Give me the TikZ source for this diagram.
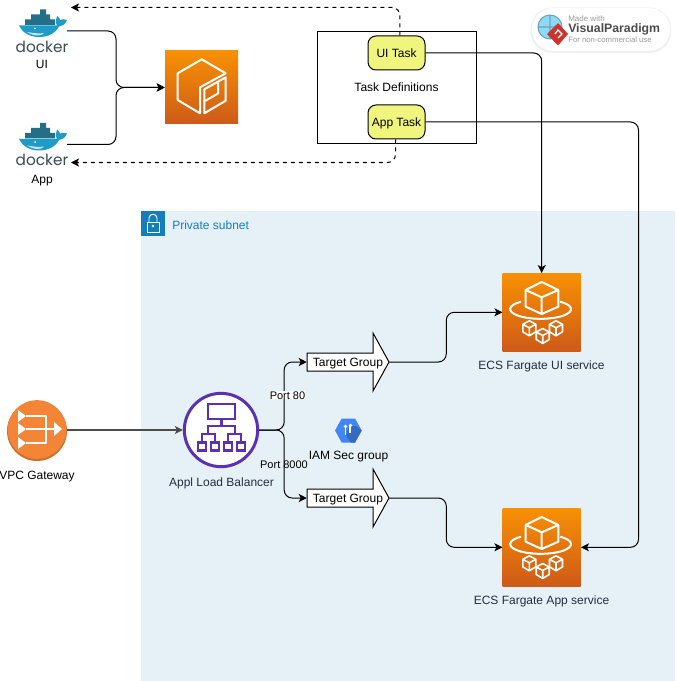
\documentclass[tikz,border=0pt]{standalone}
\usepackage{fontspec}
\usepackage{xcolor}
\usepackage{tikz}
\usetikzlibrary{arrows.meta,positioning,shapes.geometric,calc}
\setmainfont{Liberation Sans}
\newfontfamily\dockerfont{Poppins}
\definecolor{subnetbg}{RGB}{230,240,247}
\definecolor{subnetblue}{RGB}{20,126,186}
\definecolor{awstop}{RGB}{248,144,4}
\definecolor{awsbot}{RGB}{206,90,24}
\definecolor{taskyel}{RGB}{240,245,125}
\definecolor{albpurple}{RGB}{90,48,181}
\definecolor{gworange}{RGB}{245,133,54}
\definecolor{gwdark}{RGB}{205,110,45}
\definecolor{awsink}{RGB}{35,47,62}
\definecolor{whaleblue}{RGB}{30,155,200}
\definecolor{crateblue}{RGB}{36,110,135}
\definecolor{dockerink}{RGB}{57,77,84}
\definecolor{iamblue}{RGB}{66,133,244}
\definecolor{vpred}{RGB}{205,50,45}
\tikzset{
  txt/.style={font=\fontsize{9}{11}\selectfont,inner sep=0pt,text height=6.5pt,text depth=0pt},
  conn/.style={draw=black,line width=0.75pt,rounded corners=6pt,-{Stealth[length=6pt,width=6pt,inset=1.5pt]}},
  dashconn/.style={conn,dashed},
  awsbox/.style={rectangle,minimum size=58.5pt,inner sep=0pt,top color=awstop,bottom color=awsbot},
  tasknode/.style={txt,draw=black,line width=0.75pt,fill=taskyel,rounded corners=6pt,minimum width=42.75pt,minimum height=25.5pt},
  tglabel/.style={txt,minimum width=61.5pt,minimum height=13.5pt},
  dockerlbl/.style={font=\dockerfont\fontsize{11.5}{13}\selectfont,text=dockerink,inner sep=0pt},
  iconline/.style={draw=white,line width=1.5pt,line join=round},
  ecsicon/.pic={
    \draw[iconline] (0,-30.3) -- (16.6,-22.3) -- (16.6,-5.6) -- (0,1.7) -- (-16,-5.6) -- (-16,-22.3) -- cycle;
    \draw[iconline] (-16,-22.3) -- (0,-15) -- (16.6,-22.3) (0,-15) -- (0,1.7);
    \draw[iconline] (-20.7,-10.6) arc[start angle=230,end angle=-50,x radius=30.5,y radius=9.7];
    \foreach \cx/\cy in {-12.4/16,14.3/16,1/23.7}{
      \draw[iconline,line width=1.2pt,shift={(\cx,\cy)}] (0,-7.5) -- (6.5,-4) -- (6.5,3.5) -- (0,7.5) -- (-6.5,3.5) -- (-6.5,-4) -- cycle (-6.5,-4) -- (0,-0.5) -- (6.5,-4) (0,-0.5) -- (0,7.5);
    }
  },
  whale/.pic={
    \fill[crateblue] (-17,-2.5) rectangle (13,3) (-11,-7.5) rectangle (8,-2) (-2,-12.5) rectangle (4,-7);
    \fill[whaleblue] (-23,3.5) -- (15,3.5) .. controls (13,0) and (14,-3) .. (15,-6) .. controls (17,-5) and (18,-3) .. (18,-2) .. controls (20,-3) and (23,-3) .. (25,-2) .. controls (23,3) and (20,4) .. (17,4.5) .. controls (13,12) and (5,15) .. (-3,15) .. controls (-13,15) and (-20,10) .. (-23,3.5) -- cycle;
    \fill[white!75!whaleblue] (-15,10) .. controls (-8,11) and (-3,12) .. (2,11) .. controls (0,14.5) and (-8,14.5) .. (-15,10) -- cycle;
    \fill[white] (-7,6.5) circle (1);
  }
}
\begin{document}
\begin{tikzpicture}[x=0.75pt,y=-0.75pt]
  \useasboundingbox (0,0) rectangle (676,681);
  \fill[white] (0,0) rectangle (676,681);
  % subnet
  \fill[subnetbg] (141,211) rectangle (675,681);
  \fill[subnetblue] (141,211) rectangle (165,236);
  \draw[white,line width=0.7pt] (147,222) rectangle (159,232);
  \draw[white,line width=0.7pt] (149,222) -- (149,218) .. controls (149,213) and (157,213) .. (157,218) -- (157,222);
  \fill[white] (153,226) circle (1.3);
  \node[txt,text=subnetblue,anchor=west] (subnetlbl) at (172,225) {Private subnet};

  % docker
  \pic at (42,22) {whale};
  \pic at (42,135.5) {whale};
  \node[dockerlbl] (dockerui) at (42,46.5) {docker};
  \node[dockerlbl] (dockerapp) at (42,159.5) {docker};
  \node[txt] (uilbl) at (42,64.5) {UI};
  \node[txt] (applbl) at (42,179) {App};
  \coordinate (uiout) at (67,31);
  \coordinate (appout) at (67,144.5);
  \coordinate (uiback) at (71,7.5);
  \coordinate (appback) at (71,162.5);

  % registry
  \node[awsbox,minimum size=54.75pt] (registry) at (201.5,87.5) {};
  \draw[iconline] (201.7,59.3) -- (225.7,73.3) -- (200,87.3) -- (200,113.3) -- (177.7,100) -- (177.7,73.3) -- cycle;
  \draw[iconline] (204.3,89.3) -- (225.7,77.3) -- (225.7,100.7) -- (204.3,113.3) -- cycle;
  \draw[iconline] (218,81.5) -- (218,93.5) -- (205,101);

  % task definitions
  \draw[line width=0.75pt] (317.5,32) rectangle (476.5,143.5);
  \node[tasknode] (uitask) at (396.5,53) {UI Task};
  \node[tasknode] (apptask) at (396.5,122) {App Task};
  \node[txt] (tasklbl) at (396.5,87) {Task Definitions};

  % gateway and balancer
  \fill[gwdark] (37,431) circle (30);
  \node[circle,fill=gworange,minimum size=44pt,inner sep=0pt] (vpcgw) at (37,429.5) {};
  \coordinate (gwout) at (67,430);
  \draw[iconline] (26,416) -- (46,416) -- (46,443) -- (26,443) (26,429) -- (56,429);
  \fill[white] (18,410) -- (26,416) -- (18,422) -- cycle (18,423) -- (26,429) -- (18,435) -- cycle (18,437) -- (26,443) -- (18,449) -- cycle (54,422) -- (62,429) -- (54,436) -- cycle;
  \node[txt] (vpclbl) at (37,475) {VPC Gateway};
  \node[circle,draw=albpurple,fill=white,line width=2.25pt,minimum size=55pt,inner sep=0pt] (alb) at (221,430) {};
  \draw[albpurple,line width=1.6pt] (208,404) rectangle (235,419) (221.5,419) -- (221.5,426) (208,434) -- (208,426) -- (235,426) -- (235,434) (202,442) -- (202,434) -- (215,434) -- (215,442) (228,442) -- (228,434) -- (241,434) -- (241,442);
  \foreach \bx in {202,215,228,241}{
    \draw[albpurple,line width=1.6pt] (\bx-4,442.5) rectangle (\bx+4,450.5);
  }
  \node[txt,text=awsink] (alblbl) at (221.5,482) {Appl Load Balancer};

  % iam
  \fill[iamblue] (335,430.5) -- (341.7,418.5) -- (355,418.5) -- (361.7,430.5) -- (355,442.5) -- (341.7,442.5) -- cycle;
  \fill[iamblue!80!black] (349,426) -- (356,426) -- (361.7,430.5) -- (355,442.5) -- (351,442.5) -- (346,436) -- cycle;
  \draw[white,line width=1pt] (345.5,426) -- (345.5,435) (350,426) -- (350,433);
  \fill[white] (345.5,426.5) circle (1.8) (350.5,425.5) circle (1.8);
  \node[txt] (iamlbl) at (348.5,455) {IAM Sec group};

  % target groups
  \foreach \ty in {362,498}{
    \draw[fill=white,line width=0.75pt] (307,\ty-9) -- (373,\ty-9) -- (373,\ty-29) -- (389,\ty) -- (373,\ty+29) -- (373,\ty+9) -- (307,\ty+9) -- cycle;
  }
  \node[tglabel] (tgui) at (348,362) {Target Group};
  \node[tglabel] (tgapp) at (348,498) {Target Group};

  % ecs services
  \node[awsbox] (ecsui) at (541.7,312.3) {};
  \pic at (541.7,312.3) {ecsicon};
  \node[txt,text=awsink] (ecsuilbl) at (541.5,365) {ECS Fargate UI service};
  \node[awsbox] (ecsapp) at (541.7,547.3) {};
  \pic at (541.7,547.3) {ecsicon};
  \node[txt,text=awsink] (ecsapplbl) at (541.5,600) {ECS Fargate App service};

  % connectors
  \draw[conn] (uiout) -- ++(49,0) |- (registry.west);
  \draw[conn] (appout) -- ++(49,0) |- (registry.west);
  \draw[dashconn] ([xshift=2.6pt]uitask.north) |- (uiback);
  \draw[dashconn] ([xshift=-0.75pt]apptask.south) |- (appback);
  \draw[conn] (uitask.east) -| (ecsui.north);
  \draw[conn] (apptask.east) -- ++(213,0) |- (ecsapp.east);
  \draw[conn,rounded corners=0pt,draw=black!70,line width=1pt] (gwout) -- (alb.west);
  \draw[conn] (alb.east) -- ++(25,0) |- (tgui.west);
  \draw[conn] (alb.east) -- ++(25,0) |- (tgapp.west);
  \draw[conn] (tgui.east) -- ++(57,0) |- (ecsui.west);
  \draw[conn] (tgapp.east) -- ++(57,0) |- (ecsapp.west);
  \node[txt,fill=white,font=\fontsize{8.25}{10}\selectfont,text height=6pt] (port80) at (287.5,395) {Port 80};
  \node[txt,font=\fontsize{8.25}{10}\selectfont,text height=6pt] (port8000) at (284,464.5) {Port 8000};

  % badge
  \fill[black!6,rounded corners=16pt] (530.5,7.5) rectangle (671,53);
  \fill[white,rounded corners=16pt] (532,8) rectangle (670,51);
  \fill[cyan!45] (550,27) circle (12);
  \draw[cyan!40!gray,line width=0.8pt] (550,27) circle (12) (538,27) -- (562,27) (550,15) -- (550,39);
  \fill[vpred] (558,23) -- (568,34) -- (558,45.5) -- (547,34) -- cycle;
  \draw[white,line width=1pt] (555,34) -- (558,30) -- (562,34) -- (558,38);
  \node[anchor=west,inner sep=0pt,text=gray!80,font=\fontsize{6}{7}\selectfont] (vpmade) at (568,19) {Made with};
  \node[anchor=west,inner sep=0pt,text=black!70,font=\bfseries\fontsize{9.2}{11}\selectfont] (vpname) at (568,29.5) {VisualParadigm};
  \node[anchor=west,inner sep=0pt,text=gray!80,font=\fontsize{5.8}{7}\selectfont] (vpnote) at (568,40) {For non-commercial use};
\end{tikzpicture}
\end{document}
